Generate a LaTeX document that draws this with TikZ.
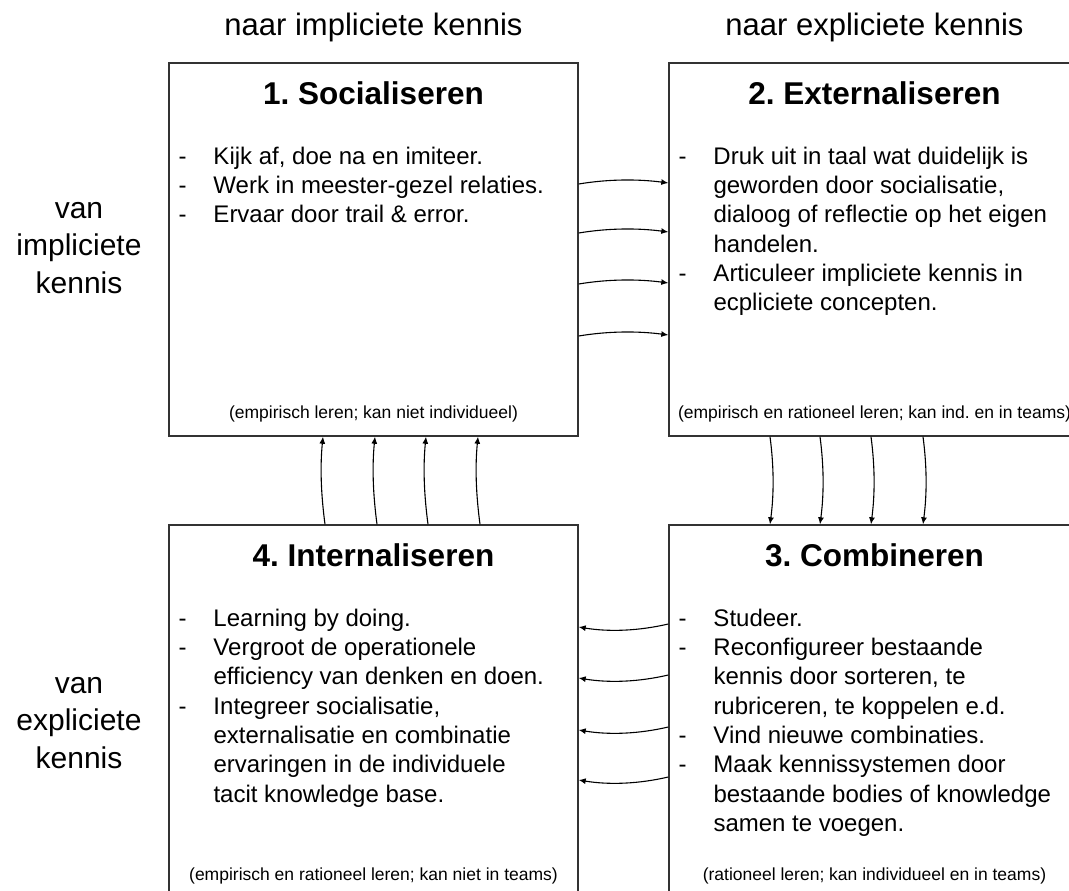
\documentclass[tikz,border=0pt]{standalone}
\usepackage{fontspec}
\setmainfont{Liberation Sans}
\usetikzlibrary{arrows.meta,calc}
% dash-led list: one column for the dash, one for the line
\newcommand{\dashlist}[1]{\begin{tabular}[t]{@{}p{35pt}@{}l@{}}#1\end{tabular}}
\newcommand{\stack}[1]{\begin{tabular}[t]{@{}c@{}}#1\end{tabular}}
\frenchspacing

\begin{document}
\begin{tikzpicture}[x=1pt,y=-1pt,
  quad/.style={draw=black!80, line width=1.4pt, minimum width=409pt, minimum height=373pt, inner sep=0pt},
  wide/.style={quad, minimum width=411pt},
  head/.style={font=\fontsize{31}{37}\selectfont, anchor=base, inner sep=0pt},
  side/.style={font=\fontsize{30}{37.5}\selectfont, anchor=base, inner sep=0pt},
  title/.style={font=\bfseries\fontsize{31.5}{38}\selectfont, anchor=base, inner sep=0pt},
  items/.style={font=\fontsize{24}{29.3}\selectfont, anchor=base west, inner sep=0pt},
  note/.style={font=\fontsize{17.5}{20}\selectfont, anchor=base, inner sep=0pt},
  flow/.style={line width=1.1pt, -{Latex[length=7pt,width=6pt]}}
]
\useasboundingbox (0,0) rectangle (1069,891);
\fill[white] (0,0) rectangle (1069,891);
\clip (0,0) rectangle (1069,891);

% the four quadrants
\node[quad] (b1) at (373.5,249.5) {};
\node[wide] (b2) at (874.5,249.5) {};
\node[wide] (b3) at (874.5,711.5) {};
\node[quad] (b4) at (373.5,711.5) {};

% column and row headings
\node[head] (h1) at (b1.north |- 0,36) {naar impliciete kennis};
\node[head] (h2) at (b2.north |- 0,36) {naar expliciete kennis};
\node[side] (s1) at (79,218) {\stack{van\\impliciete\\kennis}};
\node[side] (s2) at (79,693) {\stack{van\\expliciete\\kennis}};

% titles
\node[title] (t1) at (b1.north |- 0,104) {1. Socialiseren};
\node[title] (t2) at (b2.north |- 0,104) {2. Externaliseren};
\node[title] (t3) at (b3.north |- 0,566) {3. Combineren};
\node[title] (t4) at (b4.north |- 0,566) {4. Internaliseren};

% activity lists
\node[items] (l1) at ($(b1.north west)+(10,102)$) {\dashlist{
  - & Kijk af, doe na en imiteer.\\
  - & Werk in meester-gezel relaties.\\
  - & Ervaar door trail \& error.}};
\node[items] (l2) at ($(b2.north west)+(10,102)$) {\dashlist{
  - & Druk uit in taal wat duidelijk is\\
    & geworden door socialisatie,\\
    & dialoog of reflectie op het eigen\\
    & handelen.\\
  - & Articuleer impliciete kennis in\\
    & ecpliciete concepten.}};
\node[items] (l3) at ($(b3.north west)+(10,102)$) {\dashlist{
  - & Studeer.\\
  - & Reconfigureer bestaande\\
    & kennis door sorteren, te\\
    & rubriceren, te koppelen e.d.\\
  - & Vind nieuwe combinaties.\\
  - & Maak kennissystemen door\\
    & bestaande bodies of knowledge\\
    & samen te voegen.}};
\node[items] (l4) at ($(b4.north west)+(10,102)$) {\dashlist{
  - & Learning by doing.\\
  - & Vergroot de operationele\\
    & efficiency van denken en doen.\\
  - & Integreer socialisatie,\\
    & externalisatie en combinatie\\
    & ervaringen in de individuele\\
    & tacit knowledge base.}};

% learning modes
\node[note] (n1) at (b1.south |- 0,418) {(empirisch leren; kan niet individueel)};
\node[note] (n2) at (b2.south |- 0,418) {(empirisch en rationeel leren; kan ind. en in teams)};
\node[note] (n3) at (b3.south |- 0,880) {(rationeel leren; kan individueel en in teams)};
\node[note] (n4) at (b4.south |- 0,880) {(empirisch en rationeel leren; kan niet in teams)};

% knowledge spiral: 1 -> 2
\foreach \y in {183,232,283,335}
  \draw[flow] (b1.east |- 0,\y+1) .. controls +(30,-5) and +(-30,-4) .. (b2.west |- 0,\y);
% 2 -> 3
\foreach \x in {770,820,871,923}
  \draw[flow] (b2.south -| \x,0) .. controls +(4,30) and +(4,-30) .. (b3.north -| \x,0);
% 3 -> 4
\foreach \y in {627,678,730,780}
  \draw[flow] (b3.west |- 0,\y-3) .. controls +(-30,7) and +(30,5) .. (b4.east |- 0,\y);
% 4 -> 1
\foreach \x in {325,377,428,480}
  \draw[flow] (b4.north -| \x,0) .. controls +(-4,-30) and +(-3,30) .. (b1.south -| \x-2,0);
\end{tikzpicture}
\end{document}
